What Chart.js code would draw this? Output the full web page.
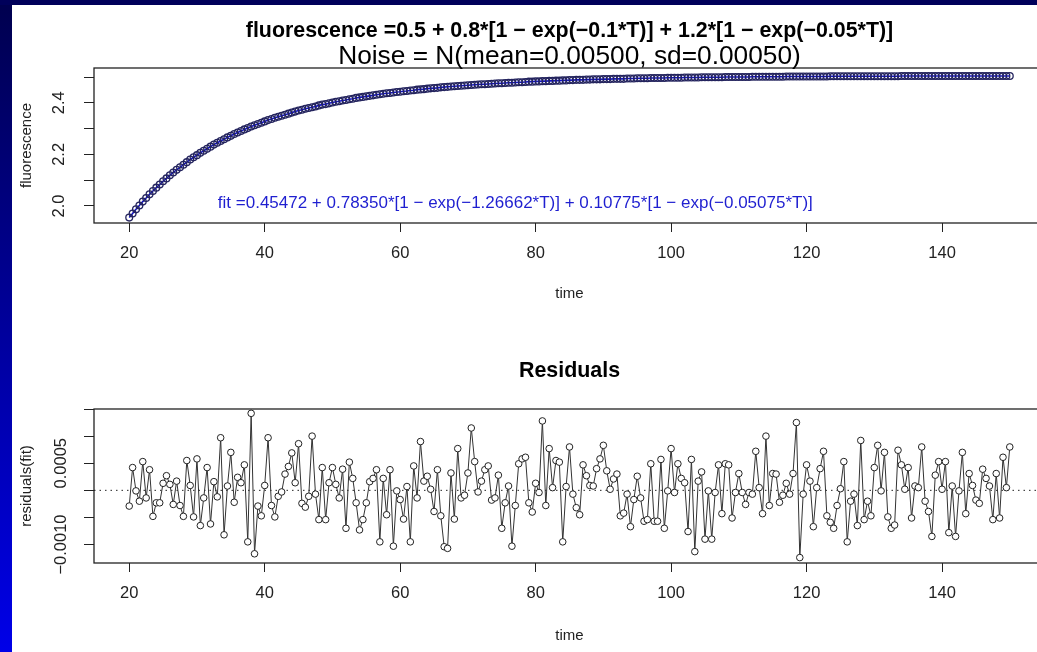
<!DOCTYPE html>
<html>
<head>
<meta charset="utf-8">
<script src="https://cdn.jsdelivr.net/npm/chart.js@4.4.0/dist/chart.umd.min.js"></script>
<style>
  html, body { margin: 0; padding: 0; background: #fff; width: 1037px; height: 652px; overflow: hidden; }
  #frame-left { position: absolute; left: 0; top: 0; width: 12px; height: 652px; background: linear-gradient(#00004e, #0000e8); z-index: 2; }
  #frame-top { position: absolute; left: 0; top: 0; width: 1037px; height: 5px; background: #00005a; z-index: 2; }
  canvas { position: absolute; left: 0; }
  #fluor-chart { top: 0; }
  #resid-chart { top: 330px; }
</style>
</head>
<body>
<div id="frame-left"></div>
<div id="frame-top"></div>
<canvas id="fluor-chart" width="1060" height="310"></canvas>
<canvas id="resid-chart" width="1060" height="322"></canvas>
<script>
// Fluorescence fit + residuals, two stacked panels
const FONT = "'Liberation Sans', Arial, Helvetica, sans-serif";

const time = [
    20, 20.5, 21, 21.5, 22, 22.5, 23, 23.5, 24, 24.5, 25, 25.5, 26, 26.5, 27, 27.5, 28, 28.5, 29, 29.5,
    30, 30.5, 31, 31.5, 32, 32.5, 33, 33.5, 34, 34.5, 35, 35.5, 36, 36.5, 37, 37.5, 38, 38.5, 39, 39.5,
    40, 40.5, 41, 41.5, 42, 42.5, 43, 43.5, 44, 44.5, 45, 45.5, 46, 46.5, 47, 47.5, 48, 48.5, 49, 49.5,
    50, 50.5, 51, 51.5, 52, 52.5, 53, 53.5, 54, 54.5, 55, 55.5, 56, 56.5, 57, 57.5, 58, 58.5, 59, 59.5,
    60, 60.5, 61, 61.5, 62, 62.5, 63, 63.5, 64, 64.5, 65, 65.5, 66, 66.5, 67, 67.5, 68, 68.5, 69, 69.5,
    70, 70.5, 71, 71.5, 72, 72.5, 73, 73.5, 74, 74.5, 75, 75.5, 76, 76.5, 77, 77.5, 78, 78.5, 79, 79.5,
    80, 80.5, 81, 81.5, 82, 82.5, 83, 83.5, 84, 84.5, 85, 85.5, 86, 86.5, 87, 87.5, 88, 88.5, 89, 89.5,
    90, 90.5, 91, 91.5, 92, 92.5, 93, 93.5, 94, 94.5, 95, 95.5, 96, 96.5, 97, 97.5, 98, 98.5, 99, 99.5,
    100, 100.5, 101, 101.5, 102, 102.5, 103, 103.5, 104, 104.5, 105, 105.5, 106, 106.5, 107, 107.5, 108, 108.5, 109, 109.5,
    110, 110.5, 111, 111.5, 112, 112.5, 113, 113.5, 114, 114.5, 115, 115.5, 116, 116.5, 117, 117.5, 118, 118.5, 119, 119.5,
    120, 120.5, 121, 121.5, 122, 122.5, 123, 123.5, 124, 124.5, 125, 125.5, 126, 126.5, 127, 127.5, 128, 128.5, 129, 129.5,
    130, 130.5, 131, 131.5, 132, 132.5, 133, 133.5, 134, 134.5, 135, 135.5, 136, 136.5, 137, 137.5, 138, 138.5, 139, 139.5,
    140, 140.5, 141, 141.5, 142, 142.5, 143, 143.5, 144, 144.5, 145, 145.5, 146, 146.5, 147, 147.5, 148, 148.5, 149, 149.5,
    150
];

const fluorescence = [
    1.955, 1.971, 1.987, 2.002, 2.017, 2.031, 2.045, 2.058, 2.071, 2.083, 2.096, 2.107, 2.119, 2.130, 2.140, 2.150, 2.160, 2.170, 2.180, 2.189,
    2.197, 2.206, 2.214, 2.222, 2.230, 2.238, 2.245, 2.252, 2.259, 2.266, 2.272, 2.279, 2.285, 2.291, 2.297, 2.302, 2.308, 2.313, 2.318, 2.323,
    2.328, 2.333, 2.337, 2.342, 2.346, 2.350, 2.354, 2.358, 2.362, 2.366, 2.370, 2.373, 2.377, 2.380, 2.383, 2.386, 2.390, 2.393, 2.395, 2.398,
    2.401, 2.404, 2.406, 2.409, 2.411, 2.414, 2.416, 2.419, 2.421, 2.423, 2.425, 2.427, 2.429, 2.431, 2.433, 2.435, 2.437, 2.438, 2.440, 2.442,
    2.443, 2.445, 2.446, 2.448, 2.449, 2.451, 2.452, 2.453, 2.455, 2.456, 2.457, 2.458, 2.460, 2.461, 2.462, 2.463, 2.464, 2.465, 2.466, 2.467,
    2.468, 2.469, 2.470, 2.471, 2.472, 2.472, 2.473, 2.474, 2.475, 2.476, 2.476, 2.477, 2.478, 2.478, 2.479, 2.480, 2.480, 2.481, 2.482, 2.482,
    2.483, 2.483, 2.484, 2.484, 2.485, 2.485, 2.486, 2.486, 2.487, 2.487, 2.488, 2.488, 2.489, 2.489, 2.489, 2.490, 2.490, 2.491, 2.491, 2.491,
    2.492, 2.492, 2.492, 2.493, 2.493, 2.493, 2.493, 2.494, 2.494, 2.494, 2.495, 2.495, 2.495, 2.495, 2.496, 2.496, 2.496, 2.496, 2.496, 2.497,
    2.497, 2.497, 2.497, 2.497, 2.498, 2.498, 2.498, 2.498, 2.498, 2.499, 2.499, 2.499, 2.499, 2.499, 2.499, 2.499, 2.500, 2.500, 2.500, 2.500,
    2.500, 2.500, 2.500, 2.500, 2.501, 2.501, 2.501, 2.501, 2.501, 2.501, 2.501, 2.501, 2.501, 2.501, 2.502, 2.502, 2.502, 2.502, 2.502, 2.502,
    2.502, 2.502, 2.502, 2.502, 2.502, 2.502, 2.502, 2.503, 2.503, 2.503, 2.503, 2.503, 2.503, 2.503, 2.503, 2.503, 2.503, 2.503, 2.503, 2.503,
    2.503, 2.503, 2.503, 2.503, 2.503, 2.503, 2.503, 2.503, 2.504, 2.504, 2.504, 2.504, 2.504, 2.504, 2.504, 2.504, 2.504, 2.504, 2.504, 2.504,
    2.504, 2.504, 2.504, 2.504, 2.504, 2.504, 2.504, 2.504, 2.504, 2.504, 2.504, 2.504, 2.504, 2.504, 2.504, 2.504, 2.504, 2.504, 2.504, 2.504,
    2.504
];

const residuals = [
    -0.00029, 0.00042, -0.00001, -0.00020, 0.00053, -0.00014, 0.00038, -0.00048, -0.00023, -0.00023,
    0.00013, 0.00027, 0.00011, -0.00026, 0.00017, -0.00028, -0.00048, 0.00055, 0.00009, -0.00049,
    0.00058, -0.00065, -0.00014, 0.00042, -0.00062, 0.00016, -0.00012, 0.00097, -0.00082, 0.00008,
    0.00070, -0.00022, 0.00024, 0.00014, 0.00047, -0.00095, 0.00142, -0.00117, -0.00029, -0.00047,
    0.00009, 0.00097, -0.00028, -0.00049, -0.00011, -0.00003, 0.00030, 0.00044, 0.00069, 0.00014,
    0.00086, -0.00024, -0.00031, -0.00011, 0.00100, -0.00007, -0.00054, 0.00042, -0.00054, 0.00014,
    0.00042, 0.00011, -0.00014, 0.00039, -0.00070, 0.00052,
    0.00022, -0.00023, -0.00073, -0.00054, -0.00023, 0.00016, 0.00022, 0.00038, -0.00095, 0.00022,
    -0.00045, 0.00038, -0.00103, -0.00001,
    -0.00017, -0.00053, 0.00007, -0.00095, 0.00045, -0.00014, 0.00090, 0.00017, 0.00026, 0.00002,
    -0.00039, 0.00038, -0.00047, -0.00104, -0.00107, 0.00032, -0.00053, 0.00077, -0.00014, -0.00009,
    0.00032, 0.00115, 0.00053, -0.00003, 0.00017, 0.00038, 0.00045, -0.00018, -0.00014, 0.00028,
    -0.00070, -0.00023, 0.00008, -0.00103, -0.00028, 0.00049, 0.00058, 0.00061, -0.00023, -0.00040,
    0.00013, -0.00004, 0.00128, -0.00028, 0.00077, 0.00005, 0.00055, 0.00052, -0.00095, 0.00007,
    0.00080, -0.00007, -0.00032, -0.00045, 0.00047, 0.00027, 0.00009, 0.00008, 0.00040, 0.00058,
    0.00083, 0.00036, 0.00002, 0.00021, 0.00030, -0.00047, -0.00042, -0.00007, -0.00067, -0.00017,
    0.00026, -0.00014, -0.00057, -0.00054, 0.00049, -0.00057, -0.00057, 0.00057, -0.00070, -0.00001,
    0.00077, -0.00004, 0.00049, 0.00022, 0.00014, -0.00076, 0.00057, -0.00113, 0.00017,
    0.00034, -0.00090, -0.00001, -0.00090, -0.00004, 0.00047, -0.00043, 0.00049, 0.00047, -0.00051,
    -0.00004,
    0.00031, -0.00004, -0.00026, -0.00004, -0.00007, 0.00072, 0.00005, -0.00043, 0.00100, -0.00028,
    0.00031, 0.00030, -0.00022, -0.00009, 0.00013, -0.00007, 0.00031, 0.00125, -0.00124, -0.00007,
    0.00047, 0.00017, -0.00067, 0.00005, 0.00040, 0.00072, -0.00047, -0.00059, -0.00070, -0.00028,
    0.00003, 0.00053, -0.00095, -0.00020, -0.00007, -0.00065, 0.00092, -0.00054, -0.00020, -0.00047,
    0.00042, 0.00083, -0.00001, 0.00070, -0.00049, -0.00070, -0.00064, 0.00074, 0.00047, 0.00002,
    0.00042, -0.00051, 0.00008, 0.00005, 0.00080, -0.00020, -0.00039, -0.00085, 0.00028, 0.00053,
    0.00002, 0.00053, -0.00078, 0.00008, -0.00085, -0.00001, 0.00070, -0.00043, 0.00031, 0.00009,
    -0.00018, -0.00024, 0.00039, 0.00022, 0.00008, -0.00054, 0.00031, -0.00051, 0.00061, 0.00005,
    0.00080
];

const xTicks = [20, 40, 60, 80, 100, 120, 140];
const fluorTicks = [2.0, 2.1, 2.2, 2.3, 2.4, 2.5];
const fluorTickLabels = ['2.0', '', '2.2', '', '2.4', ''];
const residTicks = [-0.0010, -0.0005, 0, 0.0005, 0.0010, 0.0015];
const residTickLabels = ['\u22120.0010', '', '', '0.0005', '', ''];

const mainTitle = 'fluorescence =0.5 + 0.8*[1 \u2212 exp(\u22120.1*T)] + 1.2*[1 \u2212 exp(\u22120.05*T)]';
const noiseTitle = 'Noise = N(mean=0.00500, sd=0.00050)';
const residTitle = 'Residuals';
const fitLabel = 'fit =0.45472 + 0.78350*[1 \u2212 exp(\u22121.26662*T)] + 0.10775*[1 \u2212 exp(\u22120.05075*T)]';
const fitLabelAt = { x: 77, y: 2.01 };

// box round the plot region + panel titles
const framePlugin = {
    id: 'frame',
    afterDraw(chart, args, opts) {
        const { ctx, chartArea: a } = chart;
        ctx.save();
        ctx.strokeStyle = '#222';
        ctx.lineWidth = 1.3;
        ctx.strokeRect(a.left, a.top, a.right - a.left, a.bottom - a.top);
        ctx.textAlign = 'center';
        ctx.textBaseline = 'alphabetic';
        (opts.lines || []).forEach(line => {
            ctx.font = line.font;
            ctx.fillStyle = line.color || '#000';
            ctx.fillText(line.text, (a.left + a.right) / 2, line.y);
        });
        ctx.restore();
    }
};

// dotted reference line at 0 (abline h=0, lty=3)
const zeroLinePlugin = {
    id: 'zeroLine',
    beforeDatasetsDraw(chart, args, opts) {
        if (!opts.show) return;
        const { ctx, chartArea: a, scales } = chart;
        const y = scales.y.getPixelForValue(0);
        ctx.save();
        ctx.strokeStyle = '#222';
        ctx.lineWidth = 1;
        ctx.setLineDash([1.5, 4]);
        ctx.beginPath();
        ctx.moveTo(a.left, y);
        ctx.lineTo(a.right, y);
        ctx.stroke();
        ctx.restore();
    }
};

// text() annotation placed in data coordinates
const fitLabelPlugin = {
    id: 'fitLabel',
    afterDatasetsDraw(chart, args, opts) {
        if (!opts.text) return;
        const { ctx, scales } = chart;
        ctx.save();
        ctx.font = `17px ${FONT}`;
        ctx.fillStyle = '#1f1fd0';
        ctx.textAlign = 'center';
        ctx.textBaseline = 'middle';
        ctx.fillText(opts.text, scales.x.getPixelForValue(opts.at.x), scales.y.getPixelForValue(opts.at.y));
        ctx.restore();
    }
};

function timeAxis(height) {
    return {
        type: 'linear',
        min: 14.8,
        max: 155.2,
        bounds: 'data',
        afterBuildTicks: axis => { axis.ticks = xTicks.map(v => ({ value: v })); },
        afterFit: axis => { axis.height = height; },
        grid: { drawOnChartArea: false, drawTicks: true, tickLength: 9, color: '#222', lineWidth: 1 },
        border: { display: false },
        ticks: {
            color: '#222', autoSkip: false, maxRotation: 0, padding: 12,
            font: { family: FONT, size: 16.5 },
            callback: v => String(v)
        },
        title: { display: true, text: 'time', color: '#222', font: { family: FONT, size: 15 }, padding: { top: 0, bottom: 7 } }
    };
}

function valueAxis(min, max, tickValues, tickLabels, padding, titleText) {
    return {
        type: 'linear',
        min: min,
        max: max,
        bounds: 'data',
        afterBuildTicks: axis => { axis.ticks = tickValues.map(v => ({ value: v })); },
        afterFit: axis => { axis.width = 94; },
        grid: { drawOnChartArea: false, drawTicks: true, tickLength: 10, color: '#222', lineWidth: 1 },
        border: { display: false },
        ticks: {
            color: '#222', autoSkip: false, minRotation: 90, maxRotation: 90,
            crossAlign: 'center', padding: padding,
            font: { family: FONT, size: 16.5 },
            callback: (v, i) => tickLabels[i]
        },
        title: { display: true, text: titleText, color: '#222', font: { family: FONT, size: 15 }, padding: { top: 18, bottom: 0 } }
    };
}

const fluorPoints = time.map((t, i) => ({ x: t, y: fluorescence[i] }));
const residPoints = time.map((t, i) => ({ x: t, y: residuals[i] }));

new Chart(document.getElementById('fluor-chart'), {
    type: 'line',
    data: {
        datasets: [
            {
                data: fluorPoints,
                showLine: false,
                pointRadius: 3.4,
                pointBorderWidth: 1.3,
                pointBorderColor: '#24245e',
                pointBackgroundColor: 'rgba(0,0,0,0)'
            },
            {
                data: fluorPoints,
                borderColor: '#1212c8',
                borderWidth: 1.6,
                pointRadius: 0,
                tension: 0
            }
        ]
    },
    options: {
        responsive: false,
        animation: false,
        events: [],
        layout: { padding: { top: 68, right: 15, left: 0, bottom: 0 } },
        scales: {
            x: timeAxis(87),
            y: valueAxis(1.934, 2.535, fluorTicks, fluorTickLabels, 13, 'fluorescence')
        },
        plugins: {
            legend: { display: false },
            tooltip: { enabled: false },
            frame: {
                lines: [
                    { text: mainTitle, font: `bold 21.4px ${FONT}`, y: 37 },
                    { text: noiseTitle, font: `26.3px ${FONT}`, y: 64 }
                ]
            },
            fitLabel: { text: fitLabel, at: fitLabelAt }
        }
    },
    plugins: [framePlugin, fitLabelPlugin]
});

new Chart(document.getElementById('resid-chart'), {
    type: 'line',
    data: {
        datasets: [
            {
                data: residPoints,
                borderColor: '#333',
                borderWidth: 1,
                tension: 0,
                pointRadius: 3.3,
                pointBorderWidth: 1,
                pointBorderColor: '#222',
                pointBackgroundColor: '#fff'
            }
        ]
    },
    options: {
        responsive: false,
        animation: false,
        events: [],
        layout: { padding: { top: 79, right: 15, left: 0, bottom: 0 } },
        scales: {
            x: timeAxis(89),
            y: valueAxis(-0.00134, 0.0015, residTicks, residTickLabels, -7.5, 'residuals(fit)')
        },
        plugins: {
            legend: { display: false },
            tooltip: { enabled: false },
            frame: {
                lines: [
                    { text: residTitle, font: `bold 21.4px ${FONT}`, y: 47 }
                ]
            },
            zeroLine: { show: true }
        }
    },
    plugins: [framePlugin, zeroLinePlugin]
});
</script>
</body>
</html>
